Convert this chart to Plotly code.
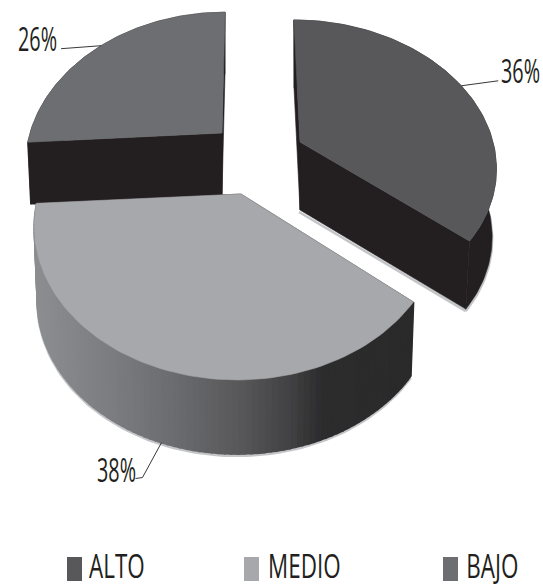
import math
import plotly.graph_objects as go

# Share of respondents per level
categories = ["ALTO", "MEDIO", "BAJO"]
values = [36, 38, 26]

top_colors = {"ALTO": "#58585a", "MEDIO": "#a7a8ab", "BAJO": "#6d6e71"}
DARK = "#231f20"
SHADOW = "#c4c5c8"

# Projection of each exploded wedge: arc centre, apex offset, radii, perspective, shear, extrusion
wedge_geometry = {
    "ALTO": dict(ax=300, ay=142, ox=0, rx=193, ry=140.5, p=0.151, k=0.05, depth=68, taper=0.978),
    "MEDIO": dict(ax=237, ay=194, ox=4, rx=198, ry=146.5, p=0.212, k=0.0, depth=74, taper=0.985),
    "BAJO": dict(ax=222, ay=133, ox=0, rx=192, ry=145, p=0.2, k=-0.025, depth=62, taper=0.985),
}

# Outer wall shading of the MEDIO wedge, left to right across the page
wall_stops = [(30, (142, 143, 146)), (110, (124, 125, 128)), (170, (108, 109, 112)),
              (240, (88, 88, 90)), (290, (66, 65, 67)), (320, (46, 45, 46)), (420, (43, 42, 43))]

# Percent labels: leader path and text offsets in px from the middle of the wedge arc
label_layout = {
    "ALTO": dict(path=[(37, -5)], text=(59, -15)),
    "MEDIO": dict(path=[(-19, 35), (-26, 36)], text=(-45, 27)),
    "BAJO": dict(path=[(-40, 3)], text=(-64, -7)),
}

TEXT_FAMILY = "Open Sans, sans-serif"
LABEL_SIZE = 33
LEGEND_SIZE = 33
# Horizontal squeeze that gives the texts their condensed look
LABEL_CONDENSE = 0.60
LEGEND_CONDENSE = 0.68


def rim(g, theta_deg, lower=False):
    t = math.radians(theta_deg)
    X, Y = math.cos(t), math.sin(t)
    w = 1 + g["p"] * Y
    dx = g["rx"] * X / w
    dy = -g["ry"] * Y / w
    x = g["ax"] + dx + g["k"] * dy
    y = g["ay"] + dy
    if lower:
        x = g["ax"] + (x - g["ax"]) * g["taper"]
        y += g["depth"]
    return x, y


def wall_color(x):
    for (x0, c0), (x1, c1) in zip(wall_stops, wall_stops[1:]):
        if x <= x1:
            f = max(0.0, (x - x0) / (x1 - x0))
            return "rgb(%d,%d,%d)" % tuple(a + (b - a) * f for a, b in zip(c0, c1))
    return "rgb(%d,%d,%d)" % wall_stops[-1][1]


def polygon(fig, pts, color, edge=0.6):
    fig.add_trace(go.Scatter(
        x=[p[0] for p in pts] + [pts[0][0]], y=[p[1] for p in pts] + [pts[0][1]],
        mode="lines", fill="toself", fillcolor=color,
        line=dict(color=color, width=edge), hoverinfo="skip", showlegend=False))


def polyline(fig, pts, color, width):
    fig.add_trace(go.Scatter(
        x=[p[0] for p in pts], y=[p[1] for p in pts], mode="lines",
        line=dict(color=color, width=width), hoverinfo="skip", showlegend=False))


fig = go.Figure()

# Wedge angles run clockwise from twelve o'clock in proportion to the values
spans = {}
start = 90.0
for name, v in zip(categories, values):
    spans[name] = (start, start - v * 3.6)
    start -= v * 3.6


def draw_wedge(name):
    g = wedge_geometry[name]
    a0, a1 = spans[name]
    steps = 90
    thetas = [a0 + (a1 - a0) * i / steps for i in range(steps + 1)]
    apex = (g["ax"] + g["ox"], g["ay"])
    apex_low = (g["ax"] + g["ox"], g["ay"] + g["depth"])
    low = [rim(g, t, True) for t in thetas]

    # Soft edge below the extrusion
    if name == "BAJO":
        polyline(fig, [(x + 3, y) for x, y in [rim(g, a0, True), apex_low]], SHADOW, 2)
    else:
        polyline(fig, [(x, y + 2) for x, y in low], SHADOW, 2.5)
        if name == "ALTO":
            polyline(fig, [(apex_low[0] - 1, apex_low[1] + 2), (low[-1][0], low[-1][1] + 2)], SHADOW, 2.5)

    # Cut faces
    polygon(fig, [apex, rim(g, a0), rim(g, a0, True), apex_low], DARK)
    polygon(fig, [apex, rim(g, a1), rim(g, a1, True), apex_low], DARK)

    # Outer wall: shaded strips on MEDIO, one flat band on the others
    if name == "MEDIO":
        for t0, t1 in zip(thetas, thetas[1:]):
            p0, p1 = rim(g, t0), rim(g, t1)
            polygon(fig, [p0, p1, rim(g, t1, True), rim(g, t0, True)],
                    wall_color((p0[0] + p1[0]) / 2), edge=2)
    else:
        polygon(fig, [rim(g, t) for t in thetas] + low[::-1], DARK)

    # Top face
    polygon(fig, [apex] + [rim(g, t) for t in thetas], top_colors[name])


for name in ["BAJO", "ALTO", "MEDIO"]:
    draw_wedge(name)

annotations = []
for name, v in zip(categories, values):
    g = wedge_geometry[name]
    a0, a1 = spans[name]
    spec = label_layout[name]
    anchor = rim(g, (a0 + a1) / 2, lower=(name == "MEDIO"))
    polyline(fig, [anchor] + [(anchor[0] + dx, anchor[1] + dy) for dx, dy in spec["path"]], "#3a3839", 1)
    annotations.append(dict(
        x=anchor[0] + spec["text"][0], y=anchor[1] + spec["text"][1], text=f"{v}%",
        showarrow=False, xanchor="center", yanchor="middle",
        font=dict(family=TEXT_FAMILY, size=LABEL_SIZE, color="#231f20")))

# Legend row: swatch followed by its level name
legend_swatch_x = {"ALTO": 67, "MEDIO": 244, "BAJO": 443}
legend_text_x = {"ALTO": 117, "MEDIO": 304.5, "BAJO": 492}
shapes = []
for name in categories:
    x0 = legend_swatch_x[name]
    shapes.append(dict(type="rect", x0=x0, x1=x0 + 15, y0=557, y1=581,
                       fillcolor=top_colors[name], line=dict(width=0), layer="above"))
    annotations.append(dict(
        x=legend_text_x[name], y=565, text=name, showarrow=False, xanchor="center", yanchor="middle",
        font=dict(family=TEXT_FAMILY, size=LEGEND_SIZE, color="#231f20")))

fig.update_layout(
    width=543, height=587, margin=dict(l=0, r=0, t=0, b=0),
    paper_bgcolor="white", plot_bgcolor="white", showlegend=False,
    xaxis=dict(range=[0, 543], visible=False, fixedrange=True),
    yaxis=dict(range=[587, 0], visible=False, fixedrange=True),
    shapes=shapes, annotations=annotations)

# Squeeze percent labels and legend names separately, each about its own centre
condense_js = (
    "var legendNames=%s;"
    "document.querySelectorAll('.annotation-text').forEach(function(t){"
    "var f=legendNames.indexOf(t.textContent)>=0?%s:%s;"
    "t.style.transformBox='fill-box';t.style.transformOrigin='center';"
    "t.style.transform='scaleX('+f+')';});"
    % (categories, LEGEND_CONDENSE, LABEL_CONDENSE)
)
fig.write_html("out.html", config={"displayModeBar": False}, post_script=condense_js)
